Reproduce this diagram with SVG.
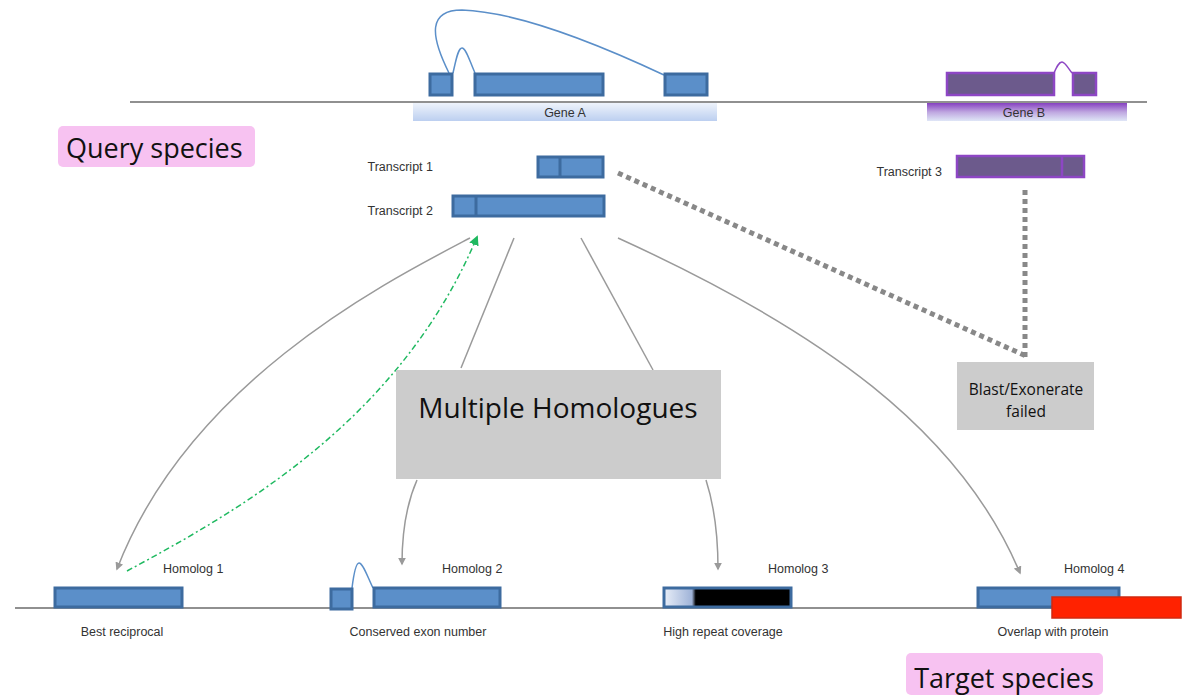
<svg xmlns="http://www.w3.org/2000/svg" width="1182" height="695" viewBox="0 0 1182 695">
<style>
.exon{fill:#5b8fc9;stroke:#3d6b9f;stroke-width:3}
.pexon{fill:#6c5a8c;stroke:#8d46c4;stroke-width:2.5}
.intron{fill:none;stroke:#5b8fc9;stroke-width:1.5}
.pintron{fill:none;stroke:#8d46c4;stroke-width:1.5}
.lbl{font-family:"Liberation Sans",Arial,sans-serif;font-size:12.5px;fill:#333}
.big{font-family:"Open Sans","Liberation Sans",sans-serif;fill:#111}
.conn{fill:none;stroke:#9a9a9a;stroke-width:1.5}
.dots{fill:none;stroke:#888;stroke-width:5;stroke-dasharray:5 4}
.box{fill:#cccccc}
.axis{stroke:#222;stroke-width:1.2}
</style>
<defs>
<linearGradient id="gA" x1="0" y1="0" x2="0" y2="1"><stop offset="0" stop-color="#eef3fb"/><stop offset="1" stop-color="#bccff0"/></linearGradient>
<linearGradient id="gB" x1="0" y1="0" x2="0" y2="1"><stop offset="0" stop-color="#8640c0"/><stop offset="0.5" stop-color="#bea6e0"/><stop offset="1" stop-color="#dfe6f7"/></linearGradient>
<linearGradient id="gR" x1="0" y1="0" x2="1" y2="0"><stop offset="0" stop-color="#e8eef8"/><stop offset="0.22" stop-color="#9fb3d8"/><stop offset="0.25" stop-color="#000"/><stop offset="1" stop-color="#000"/></linearGradient>
<marker id="ah" viewBox="0 0 10 10" refX="8" refY="5" markerWidth="8" markerHeight="8" markerUnits="userSpaceOnUse" orient="auto"><path d="M0,0 L10,5 L0,10 z" fill="#9a9a9a"/></marker>
<marker id="ahg" viewBox="0 0 10 10" refX="8" refY="5" markerWidth="10" markerHeight="10" markerUnits="userSpaceOnUse" orient="auto"><path d="M0,0 L10,5 L0,10 z" fill="#1fb960"/></marker>
</defs>

<g id="query-axis">
<line class="axis" x1="130" y1="102" x2="1147" y2="102"/>
</g>

<g id="query-label">
<rect x="58" y="126" width="197" height="41" rx="5" fill="#f7c2f1"/>
<text class="big" x="66" y="158" font-size="27">Query species</text>
</g>

<g id="gene-a">
<rect x="413" y="103" width="304" height="18" fill="url(#gA)"/>
<text class="lbl" x="565" y="117" text-anchor="middle">Gene A</text>
<path class="intron" d="M449,73 C430,35 428,10 462,10 C520,12 600,45 664,75"/>
<path class="intron" d="M453,73 C456,60 458,48 462,48 C466,48 470,62 475,73"/>
<rect class="exon" x="430" y="74" width="22" height="21"/>
<rect class="exon" x="475" y="74" width="128" height="21"/>
<rect class="exon" x="665" y="74" width="42" height="21"/>
</g>

<g id="gene-b">
<rect x="927" y="103" width="200" height="18" fill="url(#gB)"/>
<text class="lbl" x="1024" y="117" text-anchor="middle">Gene B</text>
<path class="pintron" d="M1054,73 C1057,66 1059,62 1062,62 C1065,62 1068,68 1072,73"/>
<rect class="pexon" x="947" y="73" width="107" height="22"/>
<rect class="pexon" x="1073" y="73" width="23" height="22"/>
</g>

<g id="transcript-1">
<text class="lbl" x="433" y="171" text-anchor="end">Transcript 1</text>
<rect class="exon" x="538" y="157" width="65" height="20"/>
<line x1="560" y1="157" x2="560" y2="177" stroke="#3d6b9f" stroke-width="3"/>
</g>

<g id="transcript-2">
<text class="lbl" x="433" y="215" text-anchor="end">Transcript 2</text>
<rect class="exon" x="453" y="196" width="151" height="20"/>
<line x1="476" y1="196" x2="476" y2="216" stroke="#3d6b9f" stroke-width="3"/>
</g>

<g id="transcript-3">
<text class="lbl" x="942" y="176" text-anchor="end">Transcript 3</text>
<rect class="pexon" x="957" y="156" width="127" height="21"/>
<line x1="1062" y1="156" x2="1062" y2="177" stroke="#8d46c4" stroke-width="2.5"/>
</g>

<g id="connectors">
<path class="dots" d="M618,173 L1026,356"/>
<path class="dots" d="M1025,190 L1025,357"/>
<path class="conn" d="M514,238 L461,368"/>
<path class="conn" d="M581,238 L653,370"/>
<path class="conn" marker-end="url(#ah)" d="M618,238 C820,330 960,430 1020,573"/>
<path class="conn" marker-end="url(#ah)" d="M470,238 C390,280 190,380 117,569"/>
<path fill="none" stroke="#1fb960" stroke-width="1.5" stroke-dasharray="6 3 2 3" marker-end="url(#ahg)" d="M127,571 C240,510 400,420 477,237"/>
<path class="conn" marker-end="url(#ah)" d="M417,480 C406,505 402,535 402,564"/>
<path class="conn" marker-end="url(#ah)" d="M706,480 C714,505 718,535 718,569"/>
</g>

<g id="multiple-homologues">
<rect class="box" x="396" y="370" width="325" height="109"/>
<text class="big" x="558" y="418" font-size="28" text-anchor="middle">Multiple Homologues</text>
</g>

<g id="blast-failed">
<rect class="box" x="957" y="362" width="137" height="68"/>
<text class="big" x="1026" y="395" font-size="15.5" text-anchor="middle">Blast/Exonerate</text>
<text class="big" x="1026" y="417" font-size="15.5" text-anchor="middle">failed</text>
</g>

<g id="target-axis">
<line class="axis" x1="15" y1="608" x2="1180" y2="608"/>
</g>

<g id="homolog-1">
<rect class="exon" x="55" y="588" width="127" height="19"/>
<text class="lbl" x="163" y="573">Homolog 1</text>
<text class="lbl" x="122" y="636" text-anchor="middle">Best reciprocal</text>
</g>

<g id="homolog-2">
<path class="intron" d="M352,588 C354,572 356,563 359,563 C363,563 368,578 373,588"/>
<rect class="exon" x="331" y="589" width="21" height="20"/>
<rect class="exon" x="374" y="588" width="126" height="19"/>
<text class="lbl" x="442" y="573">Homolog 2</text>
<text class="lbl" x="418" y="636" text-anchor="middle">Conserved exon number</text>
</g>

<g id="homolog-3">
<rect x="664" y="588" width="127" height="19" fill="url(#gR)" stroke="#3d6b9f" stroke-width="3"/>
<text class="lbl" x="768" y="573">Homolog 3</text>
<text class="lbl" x="723" y="636" text-anchor="middle">High repeat coverage</text>
</g>

<g id="homolog-4">
<rect class="exon" x="978" y="588" width="141" height="19"/>
<rect x="1052" y="597" width="129" height="21" fill="#ff2200" stroke="#d02a10" stroke-width="1.5"/>
<text class="lbl" x="1064" y="573">Homolog 4</text>
<text class="lbl" x="1053" y="636" text-anchor="middle">Overlap with protein</text>
</g>

<g id="target-label">
<rect x="906" y="653" width="197" height="42" rx="5" fill="#f7c2f1"/>
<text class="big" x="1004" y="688" font-size="27" text-anchor="middle">Target species</text>
</g>
</svg>
